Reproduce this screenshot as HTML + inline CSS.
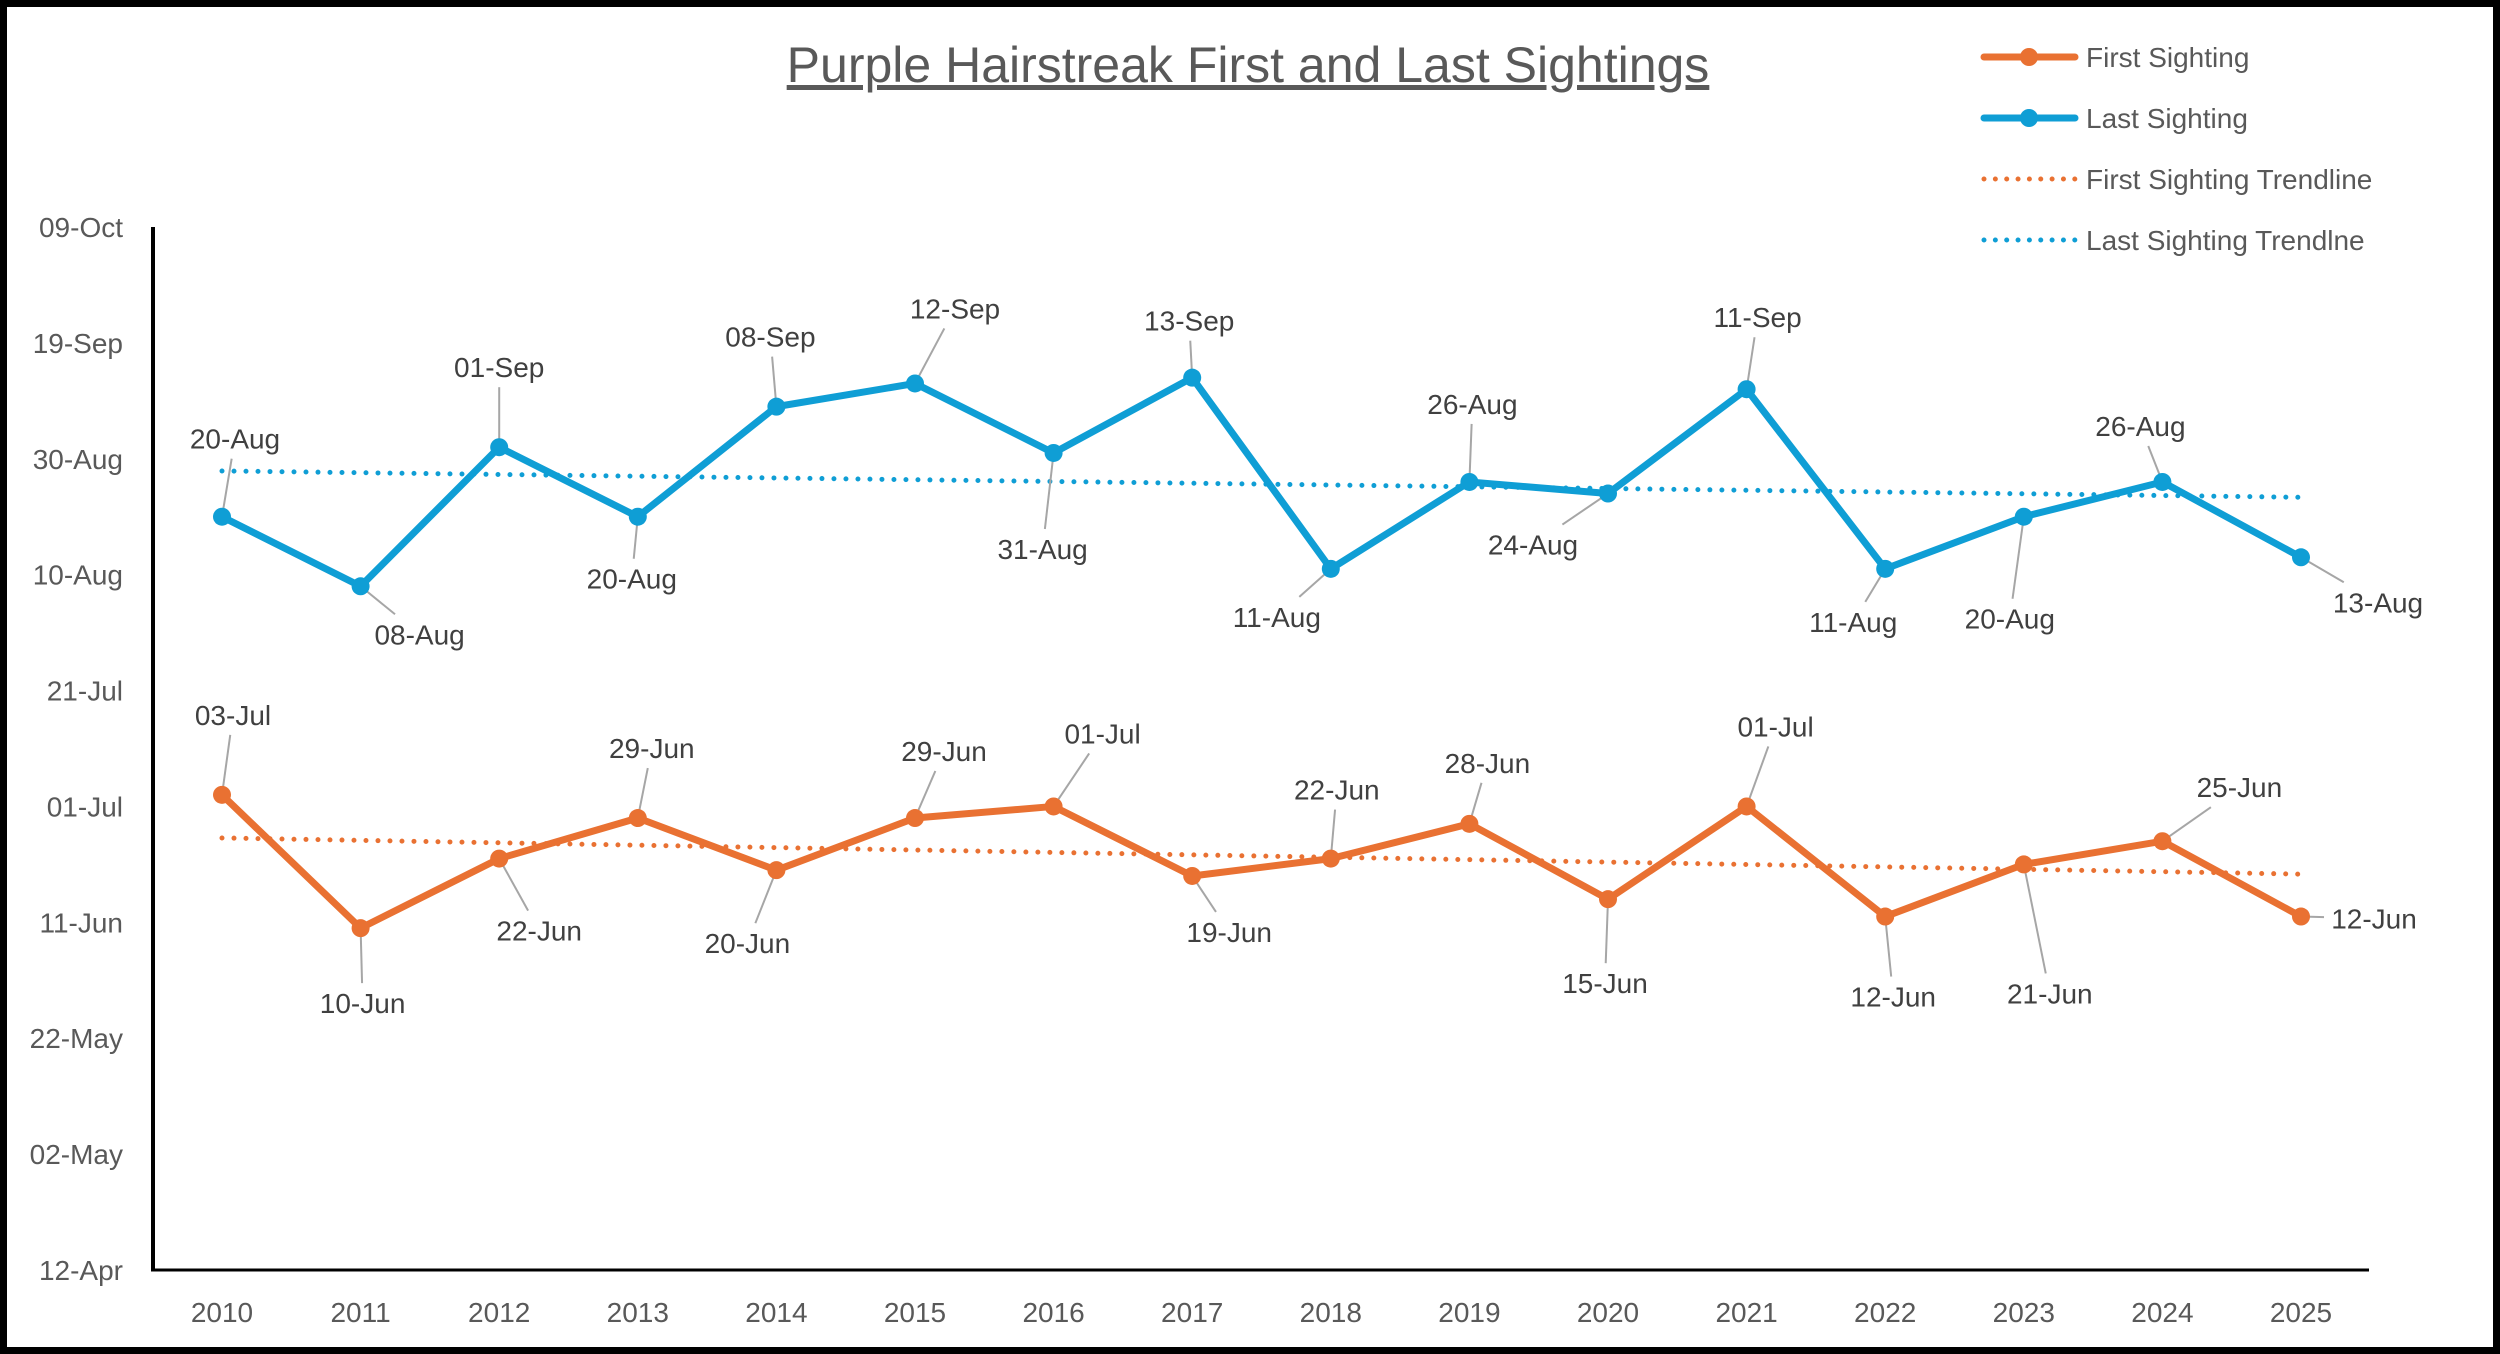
<!DOCTYPE html>
<html><head><meta charset="utf-8">
<style>
html,body{margin:0;padding:0;background:#fff;}
svg{display:block;font-family:"Liberation Sans",sans-serif;}
</style></head>
<body>
<svg id="chart" width="2500" height="1354" viewBox="0 0 2500 1354" xmlns="http://www.w3.org/2000/svg">
<rect x="3.5" y="3.5" width="2493" height="1347" fill="#fff" stroke="#000" stroke-width="7"/>
<text x="1248" y="82" text-anchor="middle" font-size="50" fill="#595959" text-decoration="underline">Purple Hairstreak First and Last Sightings</text>
<g id="axes"></g>
<g id="trends"></g>
<g id="series"></g>
<g id="legend"></g>
</svg>
<script>
const years = [2010,2011,2012,2013,2014,2015,2016,2017,2018,2019,2020,2021,2022,2023,2024,2025];
const firstSighting = ["03-Jul","10-Jun","22-Jun","29-Jun","20-Jun","29-Jun","01-Jul","19-Jun","22-Jun","28-Jun","15-Jun","01-Jul","12-Jun","21-Jun","25-Jun","12-Jun"];
const lastSighting = ["20-Aug","08-Aug","01-Sep","20-Aug","08-Sep","12-Sep","31-Aug","13-Sep","11-Aug","26-Aug","24-Aug","11-Sep","11-Aug","20-Aug","26-Aug","13-Aug"];
const yTickLabels = ["12-Apr","02-May","22-May","11-Jun","01-Jul","21-Jul","10-Aug","30-Aug","19-Sep","09-Oct"];
const firstLabelOffsets = [[11,-80],[2,75],[40,72],[14,-70],[-29,73],[29,-67],[49,-73],[37,56],[6,-69],[18,-61],[-3,84],[29,-80],[8,80],[26,129],[77,-54],[73,2]];
const lastLabelOffsets = [[13,-78],[59,48],[0,-80],[-6,62],[-6,-70],[40,-75],[-11,96],[-3,-57],[-54,48],[3,-78],[-75,51],[11,-72],[-32,53],[-14,102],[-22,-56],[77,45]];

const NS="http://www.w3.org/2000/svg";
const MON={Jan:0,Feb:31,Mar:59,Apr:90,May:120,Jun:151,Jul:181,Aug:212,Sep:243,Oct:273,Nov:304,Dec:334};
function doy(s){const [d,m]=s.split("-");return MON[m]+parseInt(d,10);}
const yMin=doy("12-Apr"), yMax=doy("09-Oct");
const plot={left:153,right:2369,top:227,bottom:1270};
const x0=222, xStep=138.6;
function xs(i){return x0+i*xStep;}
function ys(v){return plot.bottom-(v-yMin)/(yMax-yMin)*(plot.bottom-plot.top);}
function mk(tag,attrs,parent){const e=document.createElementNS(NS,tag);for(const k in attrs)e.setAttribute(k,attrs[k]);parent.appendChild(e);return e;}

const axes=document.getElementById("axes");
let e=mk("line",{x1:plot.left,y1:plot.top,x2:plot.left,y2:plot.bottom,stroke:"#000","stroke-width":4},axes);


e=mk("line",{x1:plot.left-2,y1:plot.bottom,x2:plot.right,y2:plot.bottom,stroke:"#000","stroke-width":3},axes);


yTickLabels.forEach(t=>{
  const v=doy(t);
  const tx=mk("text",{x:123,y:ys(v)+10,"text-anchor":"end","font-size":28,fill:"#595959"},axes);
  tx.textContent=t;
  
  
});
years.forEach((yr,i)=>{
  const tx=mk("text",{x:xs(i),y:1322,"text-anchor":"middle","font-size":28,fill:"#595959"},axes);
  tx.textContent=yr;
  
  
});

function regress(vals){
  const n=vals.length;let sx=0,sy=0,sxy=0,sxx=0;
  vals.forEach((v,i)=>{sx+=i;sy+=v;sxy+=i*v;sxx+=i*i;});
  const b=(n*sxy-sx*sy)/(n*sxx-sx*sx);const a=(sy-b*sx)/n;return [a,b];
}
const trends=document.getElementById("trends");
function drawTrend(vals,color,name){
  const [a,b]=regress(vals);const n=vals.length-1;
  const l=mk("line",{x1:xs(0),y1:ys(a),x2:xs(n),y2:ys(a+b*n),stroke:color,"stroke-width":5,"stroke-linecap":"round","stroke-dasharray":"0 12"},trends);
  
  
}
const firstVals=firstSighting.map(doy), lastVals=lastSighting.map(doy);
drawTrend(firstVals,"#E97132","first-sighting-trendline");
drawTrend(lastVals,"#0F9ED5","last-sighting-trendline");

const series=document.getElementById("series");
function drawSeries(vals,labels,offs,color,name){
  const g=mk("g",{},series);
  
  
  const pts=vals.map((v,i)=>xs(i)+","+ys(v)).join(" ");
  vals.forEach((v,i)=>{
    const px=xs(i),py=ys(v),[dx,dy]=offs[i];
    const dist=Math.hypot(dx,dy);
    if(dist>55){
      const t=Math.min(50/Math.max(Math.abs(dx),0.01),20/Math.max(Math.abs(dy),0.01));
      const ln=mk("line",{x1:px,y1:py,x2:px+dx*(1-t),y2:py+dy*(1-t),stroke:"#a6a6a6","stroke-width":2},g);
      
      
    }
  });
  const pl=mk("polyline",{points:pts,fill:"none",stroke:color,"stroke-width":7,"stroke-linejoin":"round","stroke-linecap":"round"},g);
  
  
  vals.forEach((v,i)=>{
    const c=mk("circle",{cx:xs(i),cy:ys(v),r:9,fill:color},g);
    
    
    const tx=mk("text",{x:xs(i)+offs[i][0],y:ys(v)+offs[i][1]+10,"text-anchor":"middle","font-size":28,fill:"#404040"},g);
    tx.textContent=labels[i];
    
    
  });
}
drawSeries(lastVals,lastSighting,lastLabelOffsets,"#0F9ED5","last-sighting-series");
drawSeries(firstVals,firstSighting,firstLabelOffsets,"#E97132","first-sighting-series");

const legend=document.getElementById("legend");
const legItems=[["First Sighting","#E97132",false],["Last Sighting","#0F9ED5",false],["First Sighting Trendline","#E97132",true],["Last Sighting Trendlne","#0F9ED5",true]];
legItems.forEach((it,k)=>{
  const y=57+k*61;
  const g=mk("g",{},legend);
  
  
  if(it[2]){
    mk("line",{x1:1984,y1:y,x2:2075,y2:y,stroke:it[1],"stroke-width":5,"stroke-linecap":"round","stroke-dasharray":"0 11.35"},g);
  }else{
    mk("line",{x1:1984,y1:y,x2:2075,y2:y,stroke:it[1],"stroke-width":7,"stroke-linecap":"round"},g);
    mk("circle",{cx:2029,cy:y,r:9,fill:it[1]},g);
  }
  const tx=mk("text",{x:2086,y:y+10,"font-size":28,fill:"#595959"},g);
  tx.textContent=it[0];
});
</script>
</body></html>
